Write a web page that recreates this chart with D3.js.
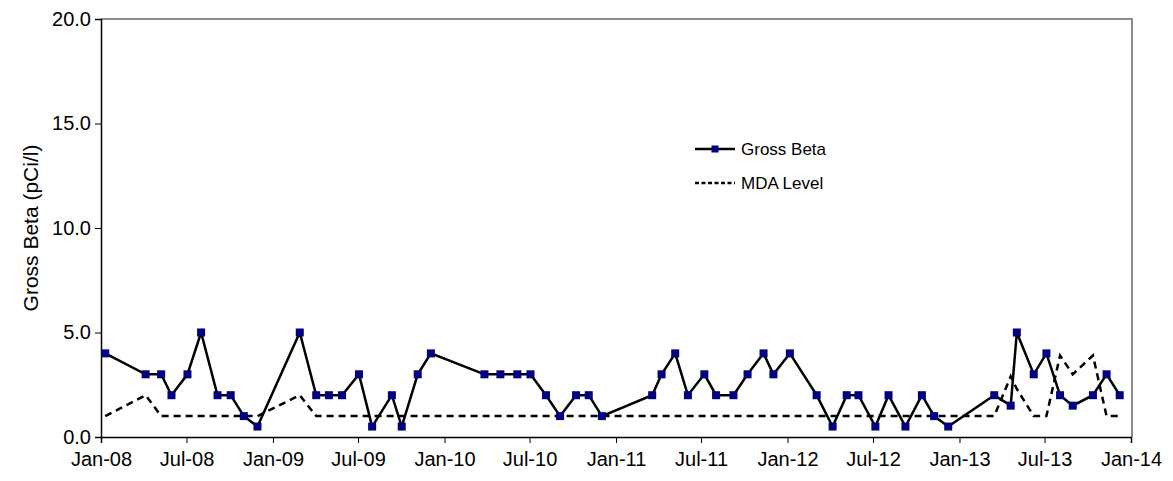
<!DOCTYPE html>
<html>
<head>
<meta charset="utf-8">
<script src="https://cdn.jsdelivr.net/npm/d3@7"></script>
<style>
  body { margin: 0; background: #fff; }
  svg { display: block; }
  text { font-family: "Liberation Sans", Arial, sans-serif; fill: #000; }
</style>
</head>
<body>
<svg id="chart" width="1173" height="481"></svg>
<script>
// ---- data ----
const sampleDates = [
  "2008-01-10","2008-04-05","2008-05-08","2008-05-30","2008-07-03","2008-08-01","2008-09-05","2008-10-03","2008-10-31","2008-11-29",
  "2009-02-27","2009-04-03","2009-04-30","2009-05-28","2009-07-03","2009-07-31","2009-09-11","2009-10-02","2009-11-05","2009-12-03",
  "2010-03-27","2010-04-30","2010-06-05","2010-07-03","2010-08-05","2010-09-04","2010-10-08","2010-11-04","2010-12-02",
  "2011-03-19","2011-04-08","2011-05-07","2011-06-03","2011-07-08","2011-08-02","2011-09-08","2011-10-08","2011-11-11","2011-12-02",
  "2012-01-06","2012-03-03","2012-04-06","2012-05-06","2012-05-31","2012-07-06","2012-08-03","2012-09-08","2012-10-13","2012-11-08","2012-12-08",
  "2013-03-16","2013-04-20","2013-05-03","2013-06-08","2013-07-05","2013-08-03","2013-08-30","2013-10-12","2013-11-10","2013-12-08"
];
const grossBeta = [
  4,3,3,2,3,5,2,2,1,0.5,
  5,2,2,2,3,0.5,2,0.5,3,4,
  3,3,3,3,2,1,2,2,1,
  2,3,4,2,3,2,2,3,4,3,
  4,2,0.5,2,2,0.5,2,0.5,2,1,0.5,
  2,1.5,5,3,4,2,1.5,2,3,2
];
const mdaLevel = [
  1,2,1,1,1,1,1,1,1,1,
  2,1,1,1,1,1,1,1,1,1,
  1,1,1,1,1,1,1,1,1,
  1,1,1,1,1,1,1,1,1,1,
  1,1,1,1,1,1,1,1,1,1,1,
  1,2.9,2.3,1,1,3.9,3,3.9,1,1
];
const yTicks = [0, 5, 10, 15, 20];
const xDomain = ["2008-01-01", "2014-01-01"];
const seriesNames = ["Gross Beta", "MDA Level"];
const yTitle = "Gross Beta (pCi/l)";

// ---- layout ----
const svg = d3.select("#chart");
const parse = d3.timeParse("%Y-%m-%d");
const pL = 101, pR = 1132, pT = 19, pB = 437;

const x = d3.scaleTime().domain(xDomain.map(parse)).range([pL, pR - 1]);
const y = d3.scaleLinear().domain([0, 20]).range([pB, pT]);

const gb = sampleDates.map((d, i) => ({ date: parse(d), v: grossBeta[i] }));
const mda = sampleDates.map((d, i) => ({ date: parse(d), v: mdaLevel[i] }));

// plot frame (top & right grey)
svg.append("path")
  .attr("d", `M${pL},${pT}H${pR}V${pB}`)
  .attr("fill", "none").attr("stroke", "#8c8c8c").attr("stroke-width", 2);

// axes
const fmt = d3.timeFormat("%b-%y");
const xAxis = svg.append("g").attr("transform", `translate(0,${pB})`)
  .call(d3.axisBottom(x).ticks(d3.timeMonth.every(6)).tickFormat(fmt).tickSizeOuter(0).tickSize(6).tickPadding(9));
const yAxis = svg.append("g").attr("transform", `translate(${pL},0)`)
  .call(d3.axisLeft(y).tickValues(yTicks).tickFormat(d3.format(".1f")).tickSizeOuter(0).tickSize(6).tickPadding(4));
[xAxis, yAxis].forEach(g => {
  g.select(".domain").attr("stroke", "#000").attr("stroke-width", 1.5);
  g.selectAll(".tick line").attr("stroke", "#000").attr("stroke-width", 1);
  g.selectAll(".tick text").attr("font-size", 20).attr("font-family", "Liberation Sans, Arial, sans-serif").attr("fill", "#000");
});

// y title
svg.append("text")
  .attr("transform", `translate(30,${(pT + pB) / 2}) rotate(-90)`)
  .attr("text-anchor", "middle").attr("dominant-baseline", "central")
  .attr("font-size", 21).text(yTitle);

// lines
const line = d3.line().x(d => x(d.date)).y(d => y(d.v));
svg.append("path").datum(mda).attr("d", line)
  .attr("fill", "none").attr("stroke", "#000").attr("stroke-width", 2.5).attr("stroke-dasharray", "7,5");
svg.append("path").datum(gb).attr("d", line)
  .attr("fill", "none").attr("stroke", "#000").attr("stroke-width", 2.5);
svg.selectAll("rect.m").data(gb).enter().append("rect").attr("class", "m")
  .attr("x", d => x(d.date) - 4).attr("y", d => y(d.v) - 4)
  .attr("width", 8).attr("height", 8).attr("fill", "#000080");

// legend
const lg = svg.append("g").attr("transform", "translate(695,149)");
lg.append("line").attr("x1", 0).attr("x2", 40).attr("y1", 0).attr("y2", 0)
  .attr("stroke", "#000").attr("stroke-width", 2.5);
lg.append("rect").attr("x", 16.5).attr("y", -3.5).attr("width", 7).attr("height", 7).attr("fill", "#000080");
lg.append("text").attr("x", 46).attr("y", 0).attr("dominant-baseline", "central").attr("font-size", 17).text(seriesNames[0]);
lg.append("line").attr("x1", 0).attr("x2", 40).attr("y1", 34).attr("y2", 34)
  .attr("stroke", "#000").attr("stroke-width", 2.5).attr("stroke-dasharray", "4,2.5");
lg.append("text").attr("x", 46).attr("y", 34).attr("dominant-baseline", "central").attr("font-size", 17).text(seriesNames[1]);
</script>
</body>
</html>
